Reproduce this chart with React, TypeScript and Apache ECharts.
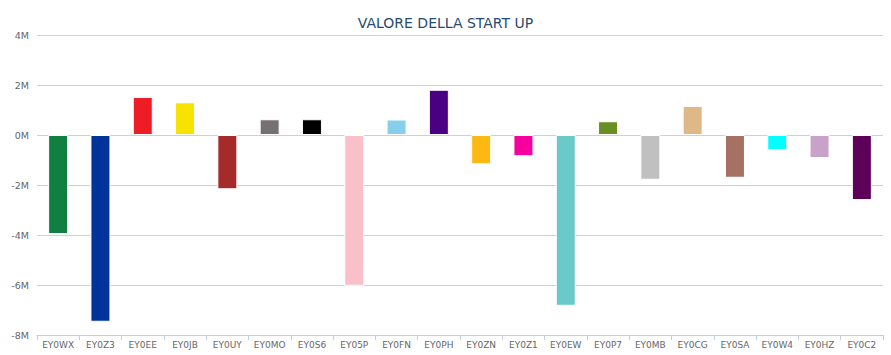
import React, { useEffect, useRef } from "react";
import * as echarts from "echarts";

const title = "VALORE DELLA START UP";
const categories = ["EY0WX", "EY0Z3", "EY0EE", "EY0JB", "EY0UY", "EY0MO", "EY0S6", "EY05P", "EY0FN", "EY0PH", "EY0ZN", "EY0Z1", "EY0EW", "EY0P7", "EY0MB", "EY0CG", "EY0SA", "EY0W4", "EY0HZ", "EY0C2"];
const values = [-3.96, -7.47, 1.52, 1.31, -2.17, 0.63, 0.63, -6.03, 0.62, 1.81, -1.17, -0.85, -6.83, 0.55, -1.79, 1.16, -1.71, -0.6, -0.92, -2.6];
const colors = ["#108040", "#003399", "#ee1c25", "#f7e200", "#a52a2a", "#767171", "#000000", "#f9c0ca", "#87ceeb", "#4b0082", "#fdb813", "#f700a0", "#6ac9c9", "#6b8e23", "#c0c0c0", "#deb887", "#a57164", "#00ffff", "#c8a2c8", "#5c0058"];
const yMin = -8;
const yMax = 4;
const yStep = 2;

export default function App() {
  const ref = useRef<HTMLDivElement>(null);
  useEffect(() => {
    if (!ref.current) return;
    const chart = echarts.init(ref.current, null, { renderer: "svg" });
    chart.setOption({
      animation: false,
      title: {
        text: title,
        left: "center",
        top: 11,
        textStyle: { color: "#274b6d", fontSize: 14, fontWeight: "normal", fontFamily: "DejaVu Sans" },
      },
      grid: { left: 37, right: 8, top: 35, bottom: 20 },
      xAxis: {
        type: "category",
        data: categories,
        axisLine: { onZero: false, lineStyle: { color: "#c0d0e0", width: 1 } },
        axisTick: { show: true, length: 5, lineStyle: { color: "#c0d0e0" } },
        axisLabel: { color: "#666666", fontSize: 9, fontFamily: "DejaVu Sans", margin: 5 },
      },
      yAxis: {
        type: "value",
        min: yMin * 1e6,
        max: yMax * 1e6,
        interval: yStep * 1e6,
        axisLine: { show: false },
        axisTick: { show: false },
        splitLine: { lineStyle: { color: "#d0d0d0", width: 1 } },
        axisLabel: {
          color: "#666666",
          fontSize: 9.5,
          fontFamily: "DejaVu Sans",
          margin: 8,
          formatter: (v: number) => `${Math.round(v / 1e6)}M`,
        },
      },
      series: [
        {
          type: "bar",
          barWidth: 20,
          data: values.map((v, i) => ({
            value: v * 1e6,
            itemStyle: { color: colors[i], borderColor: "#ffffff", borderWidth: 1 },
          })),
        },
      ],
    });
    return () => chart.dispose();
  }, []);
  return <div ref={ref} style={{ width: 891, height: 355, position: "absolute", left: 0, top: 0 }} />;
}
